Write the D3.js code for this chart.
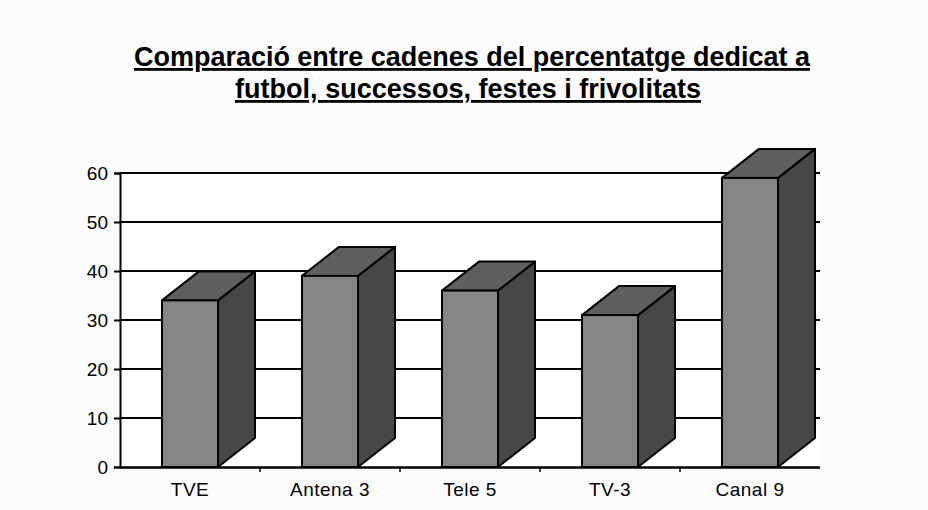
<!DOCTYPE html>
<html lang="ca">
<head>
<meta charset="UTF-8">
<title>Comparació entre cadenes</title>
<script src="https://d3js.org/d3.v7.min.js"></script>
<style>
  body { margin: 0; background: #fcfcfc; }
  svg { display: block; }
  .tick text { font-family: "Liberation Sans", Arial, sans-serif; font-size: 19px; fill: #000; }
  .x-axis .tick text { letter-spacing: 0.5px; }
</style>
</head>
<body>
<svg id="chart" width="928" height="510"></svg>
<script>
const channels = ["TVE", "Antena 3", "Tele 5", "TV-3", "Canal 9"];
const percentages = [34, 39, 36, 31, 59];
const yTicks = [0, 10, 20, 30, 40, 50, 60];
const titleLines = [
  "Comparació entre cadenes del percentatge dedicat a",
  "futbol, successos, festes i frivolitats"
];

const svg = d3.select("#chart");
const plotLeft = 120, plotRight = 820, plotTop = 173, plotBottom = 467;
const depthX = 37, depthY = -29;

const x = d3.scaleBand().domain(channels).range([plotLeft, plotRight]).paddingInner(0.6).paddingOuter(0.3);
const xTicks = d3.scaleBand().domain(channels).range([plotLeft, plotRight]);
const y = d3.scaleLinear().domain([0, 60]).range([plotBottom, plotTop]);

// title (tall, condensed look)
const title = svg.append("g");
const titleY = [66, 98];
const titleW = [676, 466];
const titleX = [472, 468];
titleLines.forEach((t, i) => {
  title.append("text")
    .attr("x", titleX[i]).attr("y", titleY[i])
    .attr("text-anchor", "middle")
    .attr("textLength", titleW[i])
    .attr("lengthAdjust", "spacingAndGlyphs")
    .style("font-family", "'Liberation Sans', Arial, sans-serif")
    .style("font-weight", "bold")
    .style("font-size", "28px")
    .style("text-decoration", "underline")
    .text(t);
});

// plot area background
svg.append("rect").attr("x", plotLeft).attr("y", plotTop)
  .attr("width", plotRight - plotLeft).attr("height", plotBottom - plotTop)
  .attr("fill", "#fff");

// gridlines
svg.append("g").selectAll("line").data(yTicks.slice(1)).join("line")
  .attr("x1", plotLeft).attr("x2", plotRight)
  .attr("y1", d => y(d)).attr("y2", d => y(d))
  .attr("stroke", "#000").attr("stroke-width", 2);

// y axis
const yAxis = svg.append("g").attr("transform", `translate(${plotLeft},0)`)
  .call(d3.axisLeft(y).tickValues(yTicks).tickSize(6).tickPadding(6));
yAxis.select(".domain").attr("stroke-width", 2);
yAxis.selectAll(".tick line").attr("stroke-width", 2);

// x axis
const xAxis = svg.append("g").attr("class", "x-axis").attr("transform", `translate(0,${plotBottom})`)
  .call(d3.axisBottom(xTicks).tickSize(0).tickPadding(16));
xAxis.select(".domain").attr("stroke-width", 2).attr("d", `M${plotLeft},0.5H${plotRight}`);
svg.append("g").selectAll("line").data(channels.slice(1)).join("line")
  .attr("x1", d => xTicks(d)).attr("x2", d => xTicks(d))
  .attr("y1", plotBottom).attr("y2", plotBottom + 5)
  .attr("stroke", "#000").attr("stroke-width", 1.5);

// 3D bars
const bars = svg.append("g").selectAll("g").data(channels).join("g");
const bw = x.bandwidth();
bars.each(function(c, i) {
  const g = d3.select(this);
  const x0 = x(c), x1 = x0 + bw, y0 = y(percentages[i]), yb = y(0);
  // side face
  g.append("path")
    .attr("d", `M${x1},${yb}L${x1},${y0}L${x1 + depthX},${y0 + depthY}L${x1 + depthX},${yb + depthY}Z`)
    .attr("fill", "#474747").attr("stroke", "#000").attr("stroke-width", 2).attr("stroke-linejoin", "round");
  // top face
  g.append("path")
    .attr("d", `M${x0},${y0}L${x0 + depthX},${y0 + depthY}L${x1 + depthX},${y0 + depthY}L${x1},${y0}Z`)
    .attr("fill", "#5f5f5f").attr("stroke", "#000").attr("stroke-width", 2).attr("stroke-linejoin", "round");
  // front face
  g.append("rect")
    .attr("x", x0).attr("y", y0).attr("width", bw).attr("height", yb - y0)
    .attr("fill", "#868686").attr("stroke", "#000").attr("stroke-width", 2);
});

// redraw baseline over bars
svg.append("line").attr("x1", plotLeft).attr("x2", plotRight)
  .attr("y1", plotBottom + 0.5).attr("y2", plotBottom + 0.5)
  .attr("stroke", "#000").attr("stroke-width", 2);
</script>
</body>
</html>
